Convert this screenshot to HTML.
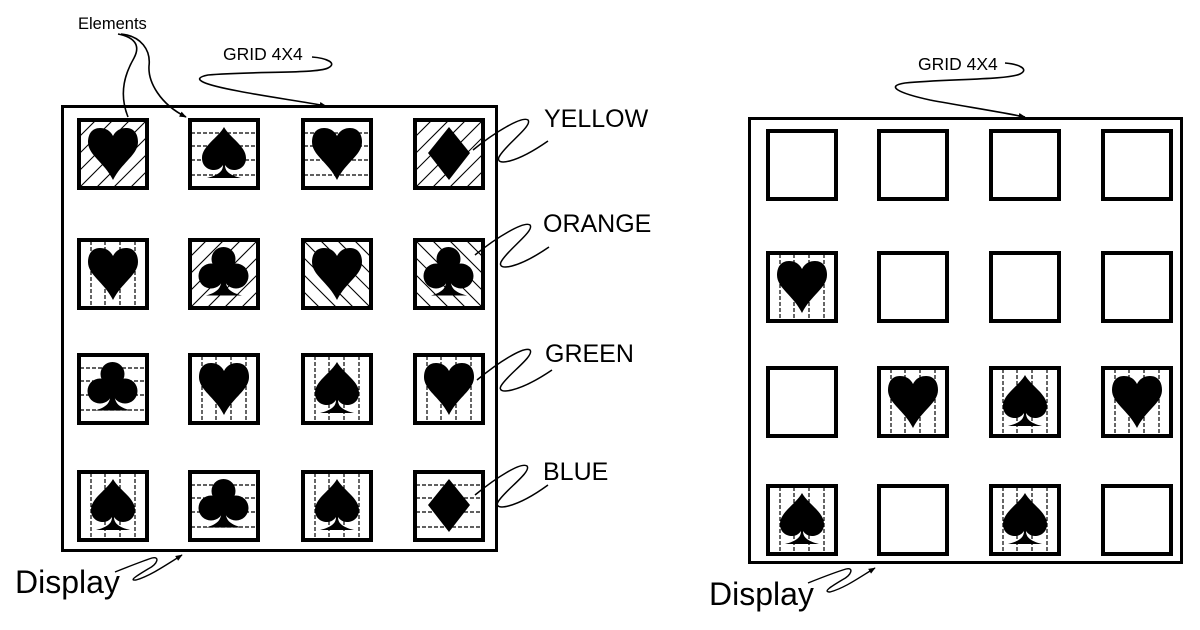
<!DOCTYPE html>
<html>
<head>
<meta charset="utf-8">
<style>
html,body{margin:0;padding:0;background:#fff;}
svg{display:block;}
text{font-family:"Liberation Sans",Arial,sans-serif;fill:#000;}
</style>
</head>
<body>
<svg width="1200" height="630" viewBox="0 0 1200 630" xmlns="http://www.w3.org/2000/svg">
<defs>
  <clipPath id="tc"><rect x="3" y="3" width="66" height="66"/></clipPath>
  <marker id="ar" viewBox="0 0 10 10" refX="9" refY="5" markerUnits="userSpaceOnUse" markerWidth="9" markerHeight="7" orient="auto"><path d="M0,1 L10,5 L0,9 z" fill="#000"/></marker>
  <g id="hv" clip-path="url(#tc)" stroke="#000" stroke-width="1.2" stroke-dasharray="4 2">
    <line x1="14" y1="3" x2="14" y2="69"/><line x1="28" y1="3" x2="28" y2="69"/>
    <line x1="43" y1="3" x2="43" y2="69"/><line x1="58" y1="3" x2="58" y2="69"/>
  </g>
  <g id="hh" clip-path="url(#tc)" stroke="#000" stroke-width="1.2" stroke-dasharray="4 2">
    <line x1="3" y1="15" x2="69" y2="15"/><line x1="3" y1="28" x2="69" y2="28"/>
    <line x1="3" y1="42" x2="69" y2="42"/><line x1="3" y1="57" x2="69" y2="57"/>
  </g>
  <g id="hy" clip-path="url(#tc)" stroke="#000" stroke-width="1.1">
    <line x1="-68" y1="72" x2="4" y2="0"/><line x1="-51" y1="72" x2="21" y2="0"/>
    <line x1="-34" y1="72" x2="38" y2="0"/><line x1="-17" y1="72" x2="55" y2="0"/>
    <line x1="0" y1="72" x2="72" y2="0"/><line x1="17" y1="72" x2="89" y2="0"/>
    <line x1="34" y1="72" x2="106" y2="0"/><line x1="51" y1="72" x2="123" y2="0"/>
  </g>
  <g id="ho" clip-path="url(#tc)" stroke="#000" stroke-width="1.1">
    <line x1="-68" y1="0" x2="4" y2="72"/><line x1="-51" y1="0" x2="21" y2="72"/>
    <line x1="-34" y1="0" x2="38" y2="72"/><line x1="-17" y1="0" x2="55" y2="72"/>
    <line x1="0" y1="0" x2="72" y2="72"/><line x1="17" y1="0" x2="89" y2="72"/>
    <line x1="34" y1="0" x2="106" y2="72"/><line x1="51" y1="0" x2="123" y2="72"/>
  </g>
  <path id="heart" d="M36,18 C33,12 28,10 23,10 C15,10 11,16 11,24 C11,37 27,44 36,62 C45,44 61,37 61,24 C61,16 57,10 49,10 C44,10 39,12 36,18 Z" fill="#000"/>
  <path id="spade" d="M36,9 C30,20 14,28 14,40 C14,48 20,52 26,52 C30,52 33,50 35,47 C35,53 31,57 19,60 L53,60 C41,57 37,53 37,47 C39,50 42,52 46,52 C52,52 58,48 58,40 C58,28 42,20 36,9 Z" fill="#000"/>
  <path id="diamond" d="M36,9 L57,35 L36,62 L15,35 Z" fill="#000"/>
  <g id="club" fill="#000">
    <circle cx="35.5" cy="21" r="12"/>
    <circle cx="23" cy="38" r="12.5"/>
    <circle cx="48" cy="38" r="12.5"/>
    <rect x="28" y="26" width="15" height="14"/>
    <path d="M33.5,40 C33.5,50 30,54 18,57.5 L54,57.5 C41,54 37.5,50 37.5,40 Z"/>
  </g>
  <rect id="bd" x="2" y="2" width="68" height="68" fill="none" stroke="#000" stroke-width="4"/>
</defs>

<!-- LEFT DIAGRAM -->
<rect x="62.5" y="106.5" width="434" height="444" fill="none" stroke="#000" stroke-width="3"/>

<!-- row 1 -->
<g transform="translate(77,118)"><use href="#hy"/><use href="#heart"/><use href="#bd"/></g>
<g transform="translate(188,118)"><use href="#hh"/><use href="#spade"/><use href="#bd"/></g>
<g transform="translate(301,118)"><use href="#hh"/><use href="#heart"/><use href="#bd"/></g>
<g transform="translate(413,118)"><use href="#hy"/><use href="#diamond"/><use href="#bd"/></g>
<!-- row 2 -->
<g transform="translate(77,238)"><use href="#hv"/><use href="#heart"/><use href="#bd"/></g>
<g transform="translate(188,238)"><use href="#hy"/><use href="#club"/><use href="#bd"/></g>
<g transform="translate(301,238)"><use href="#ho"/><use href="#heart"/><use href="#bd"/></g>
<g transform="translate(413,238)"><use href="#ho"/><use href="#club"/><use href="#bd"/></g>
<!-- row 3 -->
<g transform="translate(77,353)"><use href="#hh"/><use href="#club"/><use href="#bd"/></g>
<g transform="translate(188,353)"><use href="#hv"/><use href="#heart"/><use href="#bd"/></g>
<g transform="translate(301,353)"><use href="#hv"/><use href="#spade"/><use href="#bd"/></g>
<g transform="translate(413,353)"><use href="#hv"/><use href="#heart"/><use href="#bd"/></g>
<!-- row 4 -->
<g transform="translate(77,470)"><use href="#hv"/><use href="#spade"/><use href="#bd"/></g>
<g transform="translate(188,470)"><use href="#hh"/><use href="#club"/><use href="#bd"/></g>
<g transform="translate(301,470)"><use href="#hv"/><use href="#spade"/><use href="#bd"/></g>
<g transform="translate(413,470)"><use href="#hh"/><use href="#diamond"/><use href="#bd"/></g>

<!-- left labels -->
<text x="78" y="29" font-size="16.5">Elements</text>
<g fill="none" stroke="#000" stroke-width="1.6">
  <path d="M118,34 C134,37 141,45 134,58 C126,72 118,92 128,117"/>
  <path d="M121,34 C141,36 151,50 149,66 C148,82 160,104 186,117" marker-end="url(#ar)"/>
</g>

<text x="223" y="60" font-size="17.5">GRID 4X4</text>
<path d="M312,57 C326,58 338,63 328,68 C316,74 250,71 208,75 C188,79 206,85 238,91 C268,97 300,101 326,106" fill="none" stroke="#000" stroke-width="1.6" marker-end="url(#ar)"/>

<text x="544" y="127" font-size="25">YELLOW</text>
<text x="543" y="232" font-size="25">ORANGE</text>
<text x="545" y="362" font-size="25">GREEN</text>
<text x="543" y="480" font-size="25">BLUE</text>

<g fill="none" stroke="#000" stroke-width="1.5">
  <path d="M473,150 C495,132 522,116 528,120 C533,126 505,145 499,157 C495,166 515,164 548,141"/>
  <path d="M475,255 C497,237 524,221 530,225 C535,231 507,250 501,262 C497,271 517,269 549,247"/>
  <path d="M477,380 C499,362 524,346 530,350 C535,356 507,375 501,386 C496,395 518,393 552,370"/>
  <path d="M475,495 C497,477 521,462 527,466 C532,472 504,491 498,502 C493,511 515,509 548,485"/>
</g>

<text x="15" y="593" font-size="32">Display</text>
<path d="M115,572 C130,566 143,561 152,558 C160,556 158,564 148,569 C138,575 128,581 136,580 C150,576 166,565 182,555" fill="none" stroke="#000" stroke-width="1.4" marker-end="url(#ar)"/>

<!-- RIGHT DIAGRAM -->
<rect x="749.5" y="118.5" width="432" height="444" fill="none" stroke="#000" stroke-width="3"/>

<g transform="translate(766,129)"><use href="#bd"/></g>
<g transform="translate(877,129)"><use href="#bd"/></g>
<g transform="translate(989,129)"><use href="#bd"/></g>
<g transform="translate(1101,129)"><use href="#bd"/></g>

<g transform="translate(766,251)"><use href="#hv"/><use href="#heart"/><use href="#bd"/></g>
<g transform="translate(877,251)"><use href="#bd"/></g>
<g transform="translate(989,251)"><use href="#bd"/></g>
<g transform="translate(1101,251)"><use href="#bd"/></g>

<g transform="translate(766,366)"><use href="#bd"/></g>
<g transform="translate(877,366)"><use href="#hv"/><use href="#heart"/><use href="#bd"/></g>
<g transform="translate(989,366)"><use href="#hv"/><use href="#spade"/><use href="#bd"/></g>
<g transform="translate(1101,366)"><use href="#hv"/><use href="#heart"/><use href="#bd"/></g>

<g transform="translate(766,484)"><use href="#hv"/><use href="#spade"/><use href="#bd"/></g>
<g transform="translate(877,484)"><use href="#bd"/></g>
<g transform="translate(989,484)"><use href="#hv"/><use href="#spade"/><use href="#bd"/></g>
<g transform="translate(1101,484)"><use href="#bd"/></g>

<text x="918" y="70" font-size="17.5">GRID 4X4</text>
<path d="M1005,63 C1018,64 1030,69 1020,74 C1008,80 945,79 905,83 C885,86 898,93 930,100 C962,106 995,111 1025,117" fill="none" stroke="#000" stroke-width="1.6" marker-end="url(#ar)"/>

<text x="709" y="605" font-size="32">Display</text>
<path d="M808,583 C823,577 836,572 846,569 C854,567 852,575 842,580 C832,586 822,592 830,592 C845,588 860,577 875,568" fill="none" stroke="#000" stroke-width="1.4" marker-end="url(#ar)"/>
</svg>
</body>
</html>
